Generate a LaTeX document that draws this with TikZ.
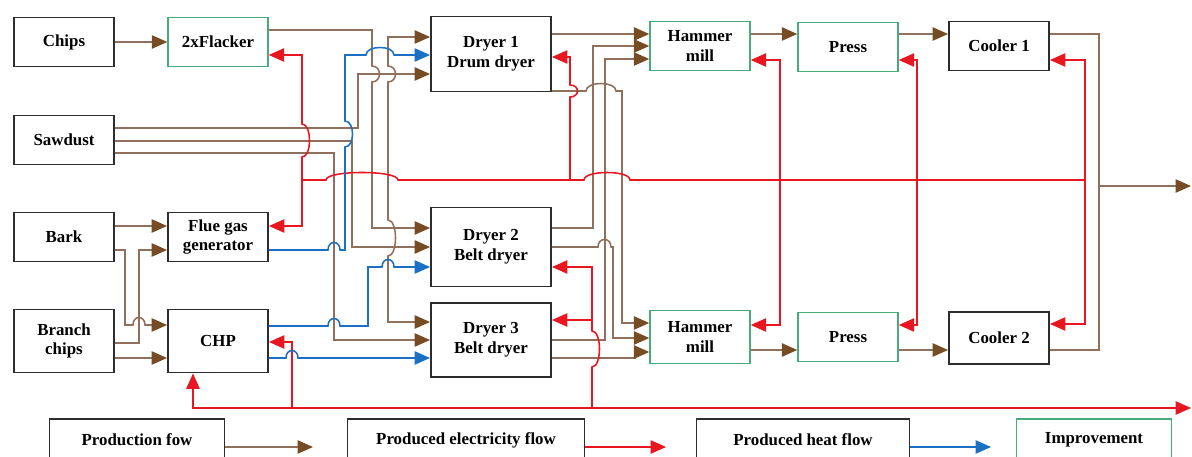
\documentclass[tikz,border=0pt]{standalone}
\usepackage{fontspec}
\setmainfont{Liberation Serif}
\usetikzlibrary{arrows.meta}
\definecolor{brownline}{RGB}{142,112,92}
\definecolor{browntip}{RGB}{118,76,36}
\definecolor{elecred}{RGB}{232,22,32}
\definecolor{heatblue}{RGB}{28,112,196}
\definecolor{impgreen}{RGB}{72,172,122}
\definecolor{boxline}{RGB}{45,45,45}
% small bridges where one line jumps another
\newcommand{\hopr}[3]{-- (#1,#3) .. controls (#1,#3-10) and (#2,#3-10) .. (#2,#3)}
\newcommand{\hopv}[3]{-- (#3,#1) .. controls (#3+10,#1) and (#3+10,#2) .. (#3,#2)}
\tikzset{
  box/.style={draw=boxline, line width=1.3pt, fill=white, minimum width=2.5cm,
    minimum height=1.225cm, align=center, inner sep=2pt,
    font=\bfseries\fontsize{12}{14}\selectfont},
  impbox/.style={box, draw=impgreen, line width=1pt},
  drybox/.style={box, minimum width=3cm, minimum height=1.875cm},
  prod/.style={draw=brownline, line width=1.1pt,
    >={Triangle[length=11pt,width=9.5pt,color=browntip]}},
  elec/.style={draw=elecred, line width=1.1pt,
    >={Triangle[length=11pt,width=9.5pt,color=elecred]}},
  heat/.style={draw=heatblue, line width=1.1pt,
    >={Triangle[length=11pt,width=9.5pt,color=heatblue]}}
}
\begin{document}
\begin{tikzpicture}[x=0.025cm,y=-0.025cm]
    \useasboundingbox (0,0) rectangle (1192,457);
    \clip (0,0) rectangle (1192,457);

    % raw materials
    \node[box] (chips) at (64,42) {Chips};
    \node[impbox] (flacker) at (218,42) {2xFlacker};
    \node[box] (sawdust) at (64,140) {Sawdust};
    \node[box] (bark) at (64,237) {Bark};
    \node[box] (flue) at (218,237) {Flue gas\\generator};
    \node[box, minimum height=1.575cm] (branch) at (64,341) {Branch\\chips};
    \node[box, minimum height=1.575cm] (chp) at (218,341) {CHP};

    % dryers
    \node[drybox] (dryA) at (491,54) {Dryer 1\\Drum dryer};
    \node[drybox, minimum height=1.975cm] (dryB) at (491,247) {Dryer 2\\Belt dryer};
    \node[drybox, minimum height=1.85cm] (dryC) at (491,340) {Dryer 3\\Belt dryer};

    % mills, presses, coolers
    \node[impbox] (millA) at (700,46) {Hammer\\mill};
    \node[impbox] (pressA) at (848,47) {Press};
    \node[box] (coolA) at (999,46) {Cooler 1};
    \node[impbox, minimum height=1.325cm] (millB) at (700,337) {Hammer\\mill};
    \node[impbox] (pressB) at (848,337) {Press};
    \node[box, minimum height=1.3cm] (coolB) at (999,338) {Cooler 2};

    % legend
    \node[box, minimum width=4.375cm, minimum height=1.05cm] (lgProd) at (137,440) {Production fow};
    \node[box, minimum width=5.925cm, minimum height=1.05cm] (lgElec) at (466,440) {Produced electricity flow};
    \node[box, minimum width=5.325cm, minimum height=1.05cm] (lgHeat) at (803,440) {Produced heat flow};
    \node[impbox, minimum width=3.875cm, minimum height=1.05cm] (lgImp) at (1094,440) {Improvement};

    \coordinate (ejL) at (302,180);
    \coordinate (ejA) at (570,180);
    \coordinate (ejR) at (1085,180);
    \coordinate (outJ) at (1099,186);
    \coordinate (outEnd) at (1191,186);
    \coordinate (botEnd) at (1191,408);
    \coordinate (botA) at (292,408);
    \coordinate (botB) at (592,408);
    \coordinate (botC) at (592,320);
    \coordinate (prodEnd) at (313,447);
    \coordinate (elecEnd) at (666,447);
    \coordinate (heatEnd) at (991,447);

    % production flow
    \draw[prod,->] (chips) -- (flacker);
    \draw[prod,->] (flacker.east |- 0,30) -- (372,30) \hopv{66}{82}{372} -- (372,228) -- (dryB.west |- 0,228);
    \draw[prod,<->] (dryA.west |- 0,37) -- (388,37) \hopv{66}{82}{388} \hopv{220}{256}{388} -- (388,322) -- (dryC.west |- 0,322);
    \draw[prod,->] (sawdust.east |- 0,128) -- (358,128) -- (358,74) -- (dryA.west |- 0,74);
    \draw[prod,->] (sawdust.east |- 0,141) -- (352,141) -- (352,247) -- (dryB.west |- 0,247);
    \draw[prod,->] (sawdust.east |- 0,153) -- (334,153) -- (334,340) -- (dryC.west |- 0,340);
    \draw[prod,->] (bark.east |- 0,226) -- (flue.west |- 0,226);
    \draw[prod,->] (bark.east |- 0,250) -- (125,250) -- (125,325) \hopr{133}{145}{325} -- (chp.west |- 0,325);
    \draw[prod,->] (branch.east |- 0,343) -- (139,343) -- (139,250) -- (flue.west |- 0,250);
    \draw[prod,->] (branch.east |- 0,358) -- (chp.west |- 0,358);

    \draw[prod,->] (dryA.east |- 0,34) -- (millA.west |- 0,34);
    \draw[prod,->] (dryA.east |- 0,91) \hopr{586}{616}{91} -- (622,91) -- (622,323) -- (millB.west |- 0,323);
    \draw[prod,->] (dryB.east |- 0,228) -- (593,228) -- (593,46) -- (millA.west |- 0,46);
    \draw[prod,->] (dryB.east |- 0,247) \hopr{598}{611}{247} -- (613,247) -- (613,338) -- (millB.west |- 0,338);
    \draw[prod,->] (dryC.east |- 0,340) -- (605,340) -- (605,59) -- (millA.west |- 0,59);
    \draw[prod,->] (dryC.east |- 0,358) -- (635,358) -- (635,352) -- (millB.west |- 0,352);

    \draw[prod,->] (millA.east |- 0,34) -- (pressA.west |- 0,34);
    \draw[prod,->] (pressA.east |- 0,34) -- (coolA.west |- 0,34);
    \draw[prod,->] (millB.east |- 0,350) -- (pressB.west |- 0,350);
    \draw[prod,->] (pressB.east |- 0,350) -- (coolB.west |- 0,350);
    \draw[prod] (coolA.east |- 0,34) -- (1099,34) -- (outJ);
    \draw[prod] (coolB.east |- 0,350) -- (1099,350) -- (outJ);
    \draw[prod,->] (outJ) -- (outEnd);

    % electricity
    \draw[elec,<->] (flacker.east |- 0,55) -- (302,55) \hopv{124}{157}{302} -- (302,226) -- (flue.east |- 0,226);
    \draw[elec] (ejL) \hopr{326}{398}{180} -- (ejA) \hopr{584}{630}{180} -- (ejR);
    \draw[elec,->] (ejA) -- (570,97) \hopv{97}{85}{570} -- (570,57) -- (dryA.east |- 0,57);
    \draw[elec,<->] (millA.east |- 0,60) -- (780,60) -- (780,325) -- (millB.east |- 0,325);
    \draw[elec,<->] (pressA.east |- 0,60) -- (917,60) -- (917,325) -- (pressB.east |- 0,325);
    \draw[elec,<->] (coolA.east |- 0,60) -- (1085,60) -- (1085,324) -- (coolB.east |- 0,324);
    \draw[elec,<->] (chp.south -| 193,0) -- (193,408) -- (botEnd);
    \draw[elec,->] (botA) -- (292,342) -- (chp.east |- 0,342);
    \draw[elec,->] (botB) \hopv{367}{331}{592} -- (592,267) -- (dryB.east |- 0,267);
    \draw[elec,->] (botC) -- (dryC.east |- 0,320);

    % heat
    \draw[heat,->] (flue.east |- 0,250) \hopr{328}{340}{250} -- (345,250) \hopv{147}{121}{345} -- (345,55) \hopr{366}{394}{55} -- (dryA.west |- 0,55);
    \draw[heat,->] (chp.east |- 0,326) \hopr{328}{340}{326} -- (368,326) -- (368,267) \hopr{382}{394}{267} -- (dryB.west |- 0,267);
    \draw[heat,->] (chp.east |- 0,358) \hopr{286}{298}{358} -- (dryC.west |- 0,358);

    % legend arrows
    \draw[prod,->] (lgProd.east |- 0,447) -- (prodEnd);
    \draw[elec,->] (lgElec.east |- 0,447) -- (elecEnd);
    \draw[heat,->] (lgHeat.east |- 0,447) -- (heatEnd);
\end{tikzpicture}
\end{document}
